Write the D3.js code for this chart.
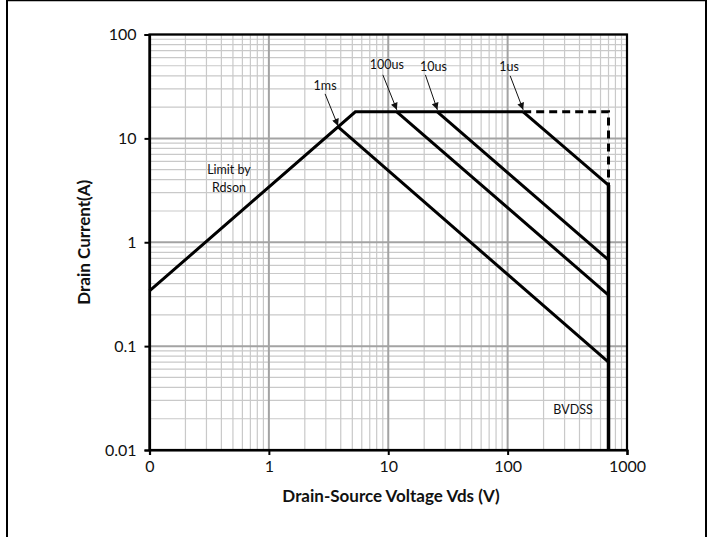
<!DOCTYPE html>
<html>
<head>
<meta charset="utf-8">
<script src="https://cdn.jsdelivr.net/npm/d3@7"></script>
<style>
  html, body { margin: 0; padding: 0; background: #fff; }
  svg { display: block; }
  text { font-family: Lato, "Open Sans", sans-serif; fill: #111; }
</style>
</head>
<body>
<svg id="chart" width="711" height="537"></svg>
<script>
// Safe operating area: drain current vs drain-source voltage (log-log)
const xTickValues = [0.1, 1, 10, 100, 1000];
const xTickLabels = ["0", "1", "10", "100", "1000"];
const yTickValues = [0.01, 0.1, 1, 10, 100];
const yTickLabels = ["0.01", "0.1", "1", "10", "100"];

// Rdson limit up to the current limit, then the flat 18 A current limit
const rdsonV = [0.1, 5.3, 135];
const rdsonI = [0.34, 18, 18];

// Pulse-width limited lines (constant power, slope -1)
const pulseNames = ["1ms", "100us", "10us", "1us"];
const pulseStartV = [3.8, 11.8, 25.8, 135];
const pulseStartI = [12.9, 18, 18, 18];
const pulseEndV = [700, 700, 700, 700];
const pulseEndI = [0.07, 0.31, 0.675, 3.55];

// Breakdown voltage limit
const bvdss = 700;
const bvdssTopI = 3.55;

// Dashed extension of the current limit out to BVDSS
const dashV = [135, 700, 700];
const dashI = [18, 18, 3.55];

const svg = d3.select("#chart");
const W = 711, H = 537;
const plot = { left: 149.5, right: 627, top: 34.5, bottom: 450 };

// outer frame
svg.append("line").attr("x1", 7).attr("x2", 706).attr("y1", 0.5).attr("y2", 0.5)
  .attr("stroke", "#000").attr("stroke-width", 1.5);
svg.append("line").attr("x1", 7).attr("x2", 7).attr("y1", 0).attr("y2", H)
  .attr("stroke", "#000").attr("stroke-width", 2);
svg.append("line").attr("x1", 706).attr("x2", 706).attr("y1", 0).attr("y2", H)
  .attr("stroke", "#000").attr("stroke-width", 2);

const x = d3.scaleLog().domain([0.1, 1000]).range([plot.left, plot.right]);
const y = d3.scaleLog().domain([0.01, 100]).range([plot.bottom, plot.top]);

// grid: minor lines for 2..9 of each decade, major lines at decades
const minorX = [], minorY = [];
for (let e = -1; e < 3; e++) for (let m = 2; m <= 9; m++) minorX.push(m * Math.pow(10, e));
for (let e = -2; e < 2; e++) for (let m = 2; m <= 9; m++) minorY.push(m * Math.pow(10, e));

const grid = svg.append("g");
grid.selectAll(".mx").data(minorX).join("line")
  .attr("x1", d => x(d)).attr("x2", d => x(d))
  .attr("y1", plot.top).attr("y2", plot.bottom)
  .attr("stroke", "#c9c9c9").attr("stroke-width", 1.2);
grid.selectAll(".my").data(minorY).join("line")
  .attr("y1", d => y(d)).attr("y2", d => y(d))
  .attr("x1", plot.left).attr("x2", plot.right)
  .attr("stroke", "#c9c9c9").attr("stroke-width", 1.2);
grid.selectAll(".Mx").data(xTickValues).join("line")
  .attr("x1", d => x(d)).attr("x2", d => x(d))
  .attr("y1", plot.top).attr("y2", plot.bottom)
  .attr("stroke", "#a3a3a3").attr("stroke-width", 2);
grid.selectAll(".My").data(yTickValues).join("line")
  .attr("y1", d => y(d)).attr("y2", d => y(d))
  .attr("x1", plot.left).attr("x2", plot.right)
  .attr("stroke", "#a3a3a3").attr("stroke-width", 2);

// plot frame
svg.append("rect")
  .attr("x", plot.left).attr("y", plot.top)
  .attr("width", plot.right - plot.left).attr("height", plot.bottom - plot.top)
  .attr("fill", "none").attr("stroke", "#000").attr("stroke-width", 2.2);

// axes
const xAxis = d3.axisBottom(x).tickValues(xTickValues)
  .tickFormat((d, i) => xTickLabels[i]).tickSize(5).tickPadding(6);
const yAxis = d3.axisLeft(y).tickValues(yTickValues)
  .tickFormat((d, i) => yTickLabels[i]).tickSize(5).tickPadding(8);

const gx = svg.append("g").attr("transform", `translate(0,${plot.bottom})`).call(xAxis);
const gy = svg.append("g").attr("transform", `translate(${plot.left},0)`).call(yAxis);
[gx, gy].forEach(g => {
  g.select(".domain").attr("stroke", "#000").attr("stroke-width", 2.2);
  g.selectAll(".tick line").attr("stroke", "#000").attr("stroke-width", 2);
  g.selectAll(".tick text").attr("font-family", "Lato, sans-serif")
    .attr("font-size", 16).attr("fill", "#111");
});

// curves
const line = d3.line().x(d => x(d[0])).y(d => y(d[1]));
const curves = svg.append("g").attr("fill", "none").attr("stroke", "#000")
  .attr("stroke-width", 3).attr("stroke-linejoin", "miter");

curves.append("path").attr("d", line(rdsonV.map((v, i) => [v, rdsonI[i]])));
pulseNames.forEach((n, i) => {
  curves.append("path").attr("d", line([[pulseStartV[i], pulseStartI[i]], [pulseEndV[i], pulseEndI[i]]]));
});
curves.append("path").attr("d", line(dashV.map((v, i) => [v, dashI[i]])))
  .attr("stroke-dasharray", "8,5");
curves.append("path").attr("d", line([[bvdss, bvdssTopI], [bvdss, 0.01]]))
  .attr("stroke-width", 3.5);

// annotation arrows pointing at the start of each pulse line
const defs = svg.append("defs");
defs.append("marker").attr("id", "arrow")
  .attr("viewBox", "0 0 10 10").attr("refX", 10).attr("refY", 5)
  .attr("markerWidth", 9).attr("markerHeight", 7).attr("markerUnits", "userSpaceOnUse")
  .attr("orient", "auto")
  .append("path").attr("d", "M0,0 L10,5 L0,10 Z").attr("fill", "#111");

const arrowOffsets = [[-13, -32], [-14, -35], [-12, -35], [-13, -34]];
const tipOffsets = [[0, -1], [0, -2], [0, -2], [0, -2]];
const labelOffsets = [[-13, -36], [-10, -41], [-4, -39], [-14, -39]];
const ann = svg.append("g");
pulseNames.forEach((n, i) => {
  const tx = x(pulseStartV[i]) + tipOffsets[i][0];
  const ty = y(pulseStartI[i]) + tipOffsets[i][1];
  ann.append("line")
    .attr("x1", tx + arrowOffsets[i][0]).attr("y1", ty + arrowOffsets[i][1])
    .attr("x2", tx).attr("y2", ty)
    .attr("stroke", "#111").attr("stroke-width", 1)
    .attr("marker-end", "url(#arrow)");
  ann.append("text")
    .attr("x", tx + labelOffsets[i][0]).attr("y", ty + labelOffsets[i][1])
    .attr("text-anchor", "middle").attr("font-size", 12.5)
    .text(n);
});

// text annotations
svg.append("text").attr("x", 229).attr("y", 173.5).attr("text-anchor", "middle")
  .attr("font-size", 12.5).text("Limit by");
svg.append("text").attr("x", 229).attr("y", 191.5).attr("text-anchor", "middle")
  .attr("font-size", 12.5).text("Rdson");
svg.append("text").attr("x", 573).attr("y", 413.5).attr("text-anchor", "middle")
  .attr("font-size", 12.5).text("BVDSS");

// axis titles
svg.append("text").attr("x", 391).attr("y", 501.5).attr("text-anchor", "middle")
  .attr("font-size", 17).attr("font-weight", "bold")
  .text("Drain-Source Voltage Vds (V)");
svg.append("text")
  .attr("transform", `translate(90,${(plot.top + plot.bottom) / 2}) rotate(-90)`)
  .attr("text-anchor", "middle")
  .attr("font-size", 17).attr("font-weight", "bold")
  .text("Drain Current(A)");
</script>
</body>
</html>
